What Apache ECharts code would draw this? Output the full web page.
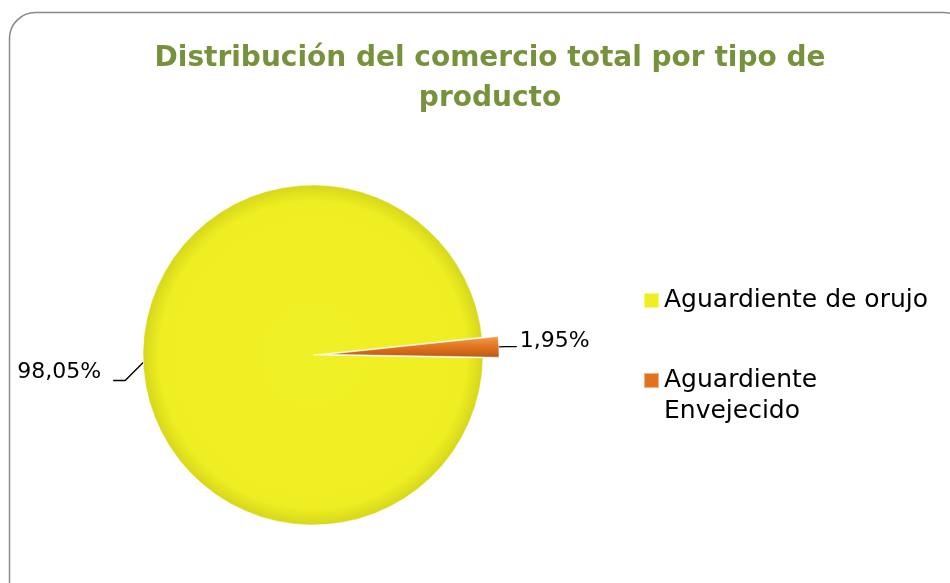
<!DOCTYPE html>
<html>
<head>
<meta charset="utf-8">
<script src="https://cdn.jsdelivr.net/npm/echarts@6/dist/echarts.min.js"></script>
<style>
  html, body { margin: 0; padding: 0; background: #fff; }
  #view { width: 950px; height: 583px; }
</style>
</head>
<body>
<div id="view"></div>
<script>
// datos
const categories = ["Aguardiente de orujo", "Aguardiente Envejecido"];
const values = [98.05, 1.95];
const colors = ["#eeee22", "#e2731e"];

const FONT = "DejaVu Sans";

let myChart = echarts.init(document.getElementById("view"));

let gradients = [
  new echarts.graphic.RadialGradient(0.5, 0.5, 0.5, [
    { offset: 0, color: "#f0f026" },
    { offset: 0.9, color: "#eeee22" },
    { offset: 1, color: "#d6d61c" },
  ]),
  new echarts.graphic.LinearGradient(0, 0, 0, 1, [
    { offset: 0, color: "#f0a050" },
    { offset: 0.5, color: "#e2731e" },
    { offset: 1, color: "#b85a14" },
  ]),
];

let seriesData = categories.map((name, i) => ({
  name: name,
  value: values[i],
  selected: i === 1,
  itemStyle: { color: gradients[i] },
}));

// leader lines like the original: short diagonal, then horizontal
function layoutLabel(p) {
  const pts = p.labelLinePoints;
  if (!pts) return {};
  const s = pts[0];
  if (p.dataIndex === 0) {
    const m = [s[0] - 18, s[1] + 18];
    const e = [m[0] - 12, m[1]];
    return {
      x: e[0] - 12,
      y: e[1] - 8,
      align: "right",
      verticalAlign: "middle",
      labelLinePoints: [s, m, e],
    };
  }
  return { dx: -2, dy: -5 };
}

let option = {
  backgroundColor: "#ffffff",
  animation: false,
  color: colors,
  title: {
    text: "Distribución del comercio total por tipo de\nproducto",
    left: 485,
    top: 34,
    textAlign: "center",
    textStyle: {
      fontFamily: FONT,
      fontSize: 28,
      fontWeight: "bold",
      color: "#76923c",
      lineHeight: 40,
    },
  },
  legend: [
    {
      data: [{ name: categories[0], itemStyle: { color: colors[0] } }],
      left: 638,
      top: 283,
      itemWidth: 15,
      itemHeight: 15,
      itemGap: 6,
      icon: "rect",
      selectedMode: false,
      textStyle: { fontFamily: FONT, fontSize: 25, color: "#000" },
    },
    {
      data: [{ name: categories[1], itemStyle: { color: colors[1] } }],
      left: 638,
      top: 329,
      itemWidth: 15,
      itemHeight: 15,
      icon: "rect",
      selectedMode: false,
      formatter: () => " \nAguardiente\nEnvejecido",
      textStyle: {
        fontFamily: FONT,
        fontSize: 25,
        color: "#000",
        lineHeight: 31,
      },
    },
  ],
  graphic: [
    {
      type: "rect",
      shape: { x: 9.5, y: 12.5, width: 960, height: 600, r: 26 },
      style: { fill: null, stroke: "#8a8a8a", lineWidth: 1.5 },
      silent: true,
    },
  ],
  series: [
    {
      type: "pie",
      center: [313, 355],
      radius: [0, 170],
      startAngle: -1,
      clockwise: true,
      selectedMode: "single",
      selectedOffset: 16,
      data: seriesData,
      label: {
        show: true,
        formatter: (p) => p.value.toFixed(2).replace(".", ",") + "%",
        fontFamily: FONT,
        fontSize: 22,
        color: "#000",
      },
      labelLine: {
        show: true,
        length: 6,
        length2: 12,
        lineStyle: { color: "#000", width: 1.4 },
      },
      labelLayout: layoutLabel,
      itemStyle: {
        borderColor: "rgba(255,255,255,0.45)",
        borderWidth: 1,
      },
      emphasis: { disabled: true },
    },
  ],
};
myChart.setOption(option);
</script>
</body>
</html>
